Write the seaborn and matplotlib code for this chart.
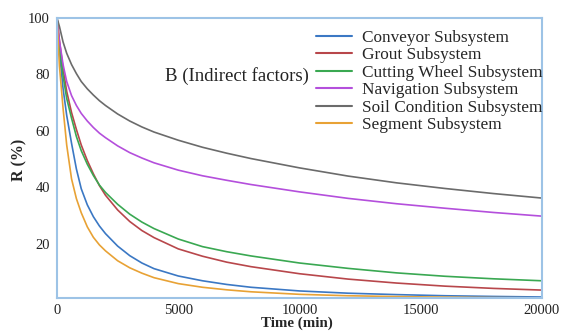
import pandas as pd
import matplotlib.pyplot as plt
import seaborn as sns

sns.set_style("white")
plt.rcParams['font.family'] = ['Liberation Serif', 'DejaVu Serif']

# Time points (min) and reliability R (%)
time_min = [0, 100, 250, 400, 600, 800, 1000, 1250, 1500, 1750, 2000, 2500, 3000,
            3500, 4000, 5000, 6000, 7000, 8000, 10000, 12000, 14000, 16000, 18000, 20000]

conveyor = [100, 88, 75, 65.5, 55.6, 46.5, 39.5, 33.8, 29.6, 26.3, 23.6, 19.2, 15.8,
            13.2, 11.2, 8.6, 6.9, 5.6, 4.6, 3.3, 2.5, 2.0, 1.6, 1.35, 1.15]
grout = [100, 92, 82, 74, 66.5, 60.5, 55.0, 49.5, 44.8, 40.6, 37.2, 32.0, 27.9,
         24.7, 22.2, 18.2, 15.6, 13.5, 11.9, 9.4, 7.5, 6.1, 5.0, 4.2, 3.6]
cutting_wheel = [100, 90, 79.5, 71.5, 64.5, 58.0, 53.0, 48.2, 44.2, 40.8, 38.2, 34.0, 30.5,
                 27.7, 25.4, 21.7, 19.0, 17.2, 15.7, 13.2, 11.3, 9.7, 8.5, 7.6, 6.9]
navigation = [100, 92, 83.5, 77.5, 72.5, 69.0, 66.2, 63.5, 61.2, 59.2, 57.6, 54.7, 52.3,
              50.4, 48.7, 46.1, 44.1, 42.5, 41.0, 38.4, 36.1, 34.2, 32.6, 31.1, 29.8]
soil_condition = [100, 97, 91.5, 87.5, 83.5, 80.3, 77.5, 74.9, 72.7, 70.7, 69.0, 66.0, 63.5,
                  61.4, 59.6, 56.7, 54.2, 52.1, 50.2, 46.9, 44.0, 41.6, 39.6, 37.8, 36.2]
segment = [100, 83, 68, 55, 43, 36, 31, 26, 22.3, 19.6, 17.5, 14.0, 11.5,
           9.6, 8.0, 5.9, 4.6, 3.7, 3.0, 2.1, 1.6, 1.3, 1.1, 0.95, 0.85]

series = {
    'Conveyor Subsystem': conveyor,
    'Grout Subsystem': grout,
    'Cutting Wheel Subsystem': cutting_wheel,
    'Navigation Subsystem': navigation,
    'Soil Condition Subsystem': soil_condition,
    'Segment Subsystem': segment,
}
colors = ['#3b78c4', '#b8474b', '#3aa852', '#b44fdc', '#6b6b6b', '#e8a235']

# long-form table for seaborn
rows = []
for name, vals in series.items():
    for t, r in zip(time_min, vals):
        rows.append({'Time': t, 'R': r, 'Subsystem': name})
df = pd.DataFrame(rows)

fig = plt.figure(figsize=(5.81, 3.32), dpi=100)
ax = fig.add_axes([57 / 581, 1 - 298 / 332, 485 / 581, 280 / 332])

sns.lineplot(data=df, x='Time', y='R', hue='Subsystem', palette=colors,
             hue_order=list(series.keys()), estimator=None, linewidth=1.2, ax=ax)

ax.set_xlim(0, 20000)
ax.set_ylim(0.8, 100)
ax.set_xticks([0, 5000, 10000, 15000, 20000])
ax.set_yticks([20, 40, 60, 80, 100])

spine_col = '#9dc3e6'
for s in ax.spines.values():
    s.set_color(spine_col)
    s.set_linewidth(1.5)
ax.tick_params(direction='out', length=3, width=1, color=spine_col,
               labelsize=10.5, labelcolor='#222222', pad=2)
ax.tick_params(axis='x', pad=1.5)

ax.set_xlabel('Time (min)', fontsize=10.8, fontweight='bold')
ax.xaxis.set_label_coords(0.495, -0.067)
ax.set_ylabel('R (%)', fontsize=11.5, fontweight='bold')
ax.yaxis.set_label_coords(-0.062, 0.493)

leg = ax.legend(loc='upper left', bbox_to_anchor=(316 / 581, 1 - 30 / 332),
                bbox_transform=fig.transFigure, frameon=False, fontsize=12.4,
                handlelength=2.1, handletextpad=0.55, labelspacing=0.08,
                borderpad=0, borderaxespad=0)
for line in leg.get_lines():
    line.set_linewidth(1.5)

fig.text(165 / 581, 1 - 76 / 332, 'B (Indirect factors)', fontsize=13.5,
         va='center', ha='left', color='#222222')

fig.savefig('out.png', dpi=100)
